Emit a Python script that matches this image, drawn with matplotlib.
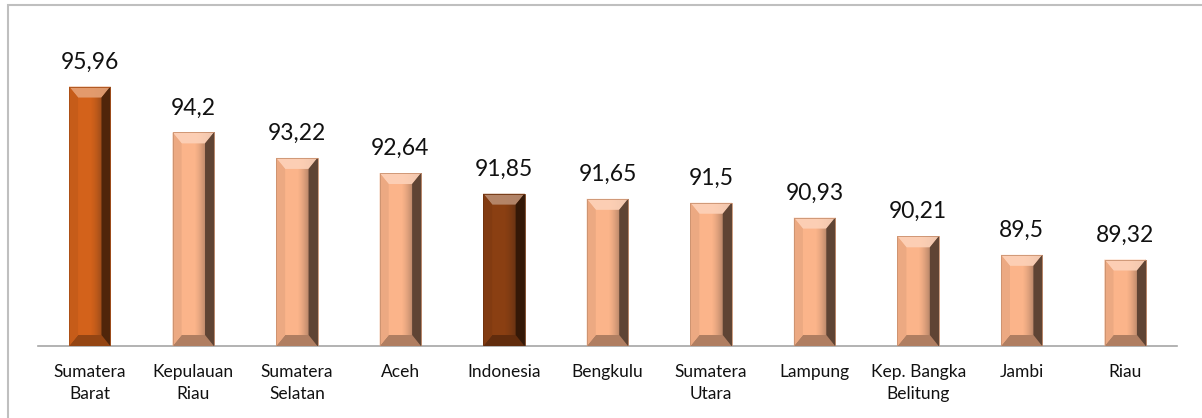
import numpy as np
import matplotlib
matplotlib.use("Agg")
import matplotlib.pyplot as plt
from matplotlib.patches import Polygon, Rectangle
from matplotlib.colors import to_rgb

categories = ["Sumatera\nBarat", "Kepulauan\nRiau", "Sumatera\nSelatan", "Aceh", "Indonesia",
              "Bengkulu", "Sumatera\nUtara", "Lampung", "Kep. Bangka\nBelitung", "Jambi", "Riau"]
values = [95.96, 94.2, 93.22, 92.64, 91.85, 91.65, 91.5, 90.93, 90.21, 89.5, 89.32]
labels = ["95,96", "94,2", "93,22", "92,64", "91,85", "91,65", "91,5", "90,93", "90,21", "89,5", "89,32"]
colors = ["#D3621B", "#FBB48A", "#FBB48A", "#FBB48A", "#8A3F12", "#FBB48A",
          "#FBB48A", "#FBB48A", "#FBB48A", "#FBB48A", "#FBB48A"]

plt.rcParams['font.family'] = ['Lato', 'DejaVu Sans']

W, H = 1202, 418
fig = plt.figure(figsize=(W / 100, H / 100), dpi=100)
ax = fig.add_axes([38 / W, 1 - 346 / H, (1177 - 38) / W, (346 - 33.4) / H])

ymin, ymax = 86, 98
x = np.arange(len(values))
bars = ax.bar(x, np.array(values) - ymin, bottom=ymin, width=0.4, color=colors, zorder=2)

def mix(c, t, amt):
    c = np.array(to_rgb(c)); t = np.array(to_rgb(t))
    return tuple(c + (t - c) * amt)

# bevel decorations derived from each bar patch
px_per_x = (1177 - 38) / len(values)
px_per_y = (346 - 33.4) / (ymax - ymin)
dx = 9 / px_per_x
dy = 11 / px_per_y
for b, c in zip(bars, colors):
    x0, y0 = b.get_x(), b.get_y()
    w, h = b.get_width(), b.get_height()
    x1, y1 = x0 + w, y0 + h
    # shading gradient toward right edge
    grad = np.linspace(0, 1, 200)
    alpha = np.clip((grad - 0.5) / 0.5, 0, 1) ** 1.5 * 0.7
    img = np.zeros((1, 200, 4))
    img[..., :3] = 0.1
    img[..., 3] = alpha
    im = ax.imshow(img, extent=[x0, x1, y0, y1], aspect='auto', zorder=3,
                   interpolation='bilinear')
    im.set_clip_path(b)
    # top bevel
    ax.add_patch(Polygon([(x0, y1), (x1, y1), (x1 - dx, y1 - dy), (x0 + dx, y1 - dy)],
                         closed=True, facecolor=mix(c, 'white', 0.4), edgecolor='none',
                         alpha=0.9, zorder=4))
    # bottom bevel
    ax.add_patch(Polygon([(x0, y0), (x1, y0), (x1 - dx, y0 + dy), (x0 + dx, y0 + dy)],
                         closed=True, facecolor=mix(c, 'black', 0.3), edgecolor='none', zorder=4))
    # left bevel
    ax.add_patch(Polygon([(x0, y0), (x0 + dx, y0 + dy), (x0 + dx, y1 - dy), (x0, y1)],
                         closed=True, facecolor=mix(c, 'black', 0.06), edgecolor='none', zorder=4))
    # right bevel
    ax.add_patch(Polygon([(x1, y0), (x1 - dx, y0 + dy), (x1 - dx, y1 - dy), (x1, y1)],
                         closed=True, facecolor=mix(c, 'black', 0.62), edgecolor='none', zorder=4))
    ax.add_patch(Rectangle((x0, y0), w, h, facecolor='none', edgecolor=mix(c, 'black', 0.2),
                           linewidth=0.6, zorder=5))

for xi, v, lab in zip(x, values, labels):
    ax.annotate(lab, (xi, v), xytext=(0, 14), textcoords='offset pixels',
                ha='center', va='bottom', fontsize=16.5, color='#111111')

ax.set_xlim(-0.5, len(values) - 0.5)
ax.set_ylim(ymin, ymax)
ax.set_xticks(x)
ax.set_xticklabels(categories, fontsize=12.5, linespacing=1.45, color='#111111')
ax.tick_params(axis='x', length=0, pad=13)
ax.set_yticks([])
for s in ['top', 'right', 'left']:
    ax.spines[s].set_visible(False)
ax.spines['bottom'].set_color('#A6A6A6')
ax.spines['bottom'].set_linewidth(1.2)

# outer chart frame (top and left visible)
fig.add_artist(Rectangle((7.5 / W, -0.1), 1.2, 1 - 4.5 / H + 0.1, transform=fig.transFigure,
                         facecolor='none', edgecolor='#BFBFBF', linewidth=1.5))

fig.savefig("out.png", dpi=100)
